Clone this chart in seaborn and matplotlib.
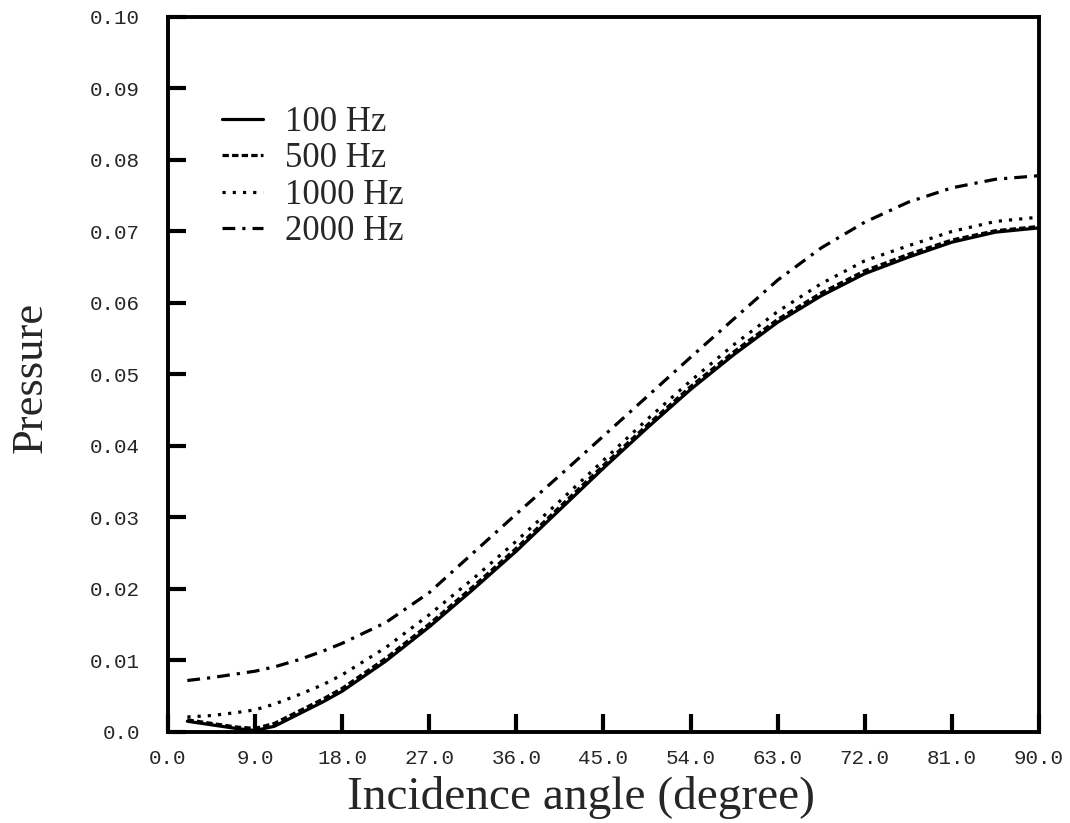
import matplotlib
matplotlib.use("Agg")
import matplotlib.pyplot as plt
import seaborn as sns
import pandas as pd

angles = [2, 4.5, 7, 9, 11, 13.5, 16, 18, 22.5, 27, 31.5, 36, 40.5, 45, 49.5, 54, 58.5, 63, 67.5, 72, 76.5, 81, 85.5, 90]
p100 = [0.0015, 0.0010, 0.0005, 0.0002, 0.0008, 0.0025, 0.0042, 0.0057, 0.0099, 0.0147, 0.0199, 0.0253, 0.0311, 0.0369, 0.0425, 0.0479, 0.0528, 0.0573, 0.0610, 0.0641, 0.0664, 0.0685, 0.0699, 0.0705]
p500 = [0.0017, 0.0012, 0.0007, 0.0005, 0.0012, 0.0029, 0.0046, 0.0061, 0.0103, 0.0151, 0.0203, 0.0257, 0.0315, 0.0373, 0.0429, 0.0483, 0.0532, 0.0577, 0.0614, 0.0645, 0.0668, 0.0688, 0.0701, 0.0707]
p1000 = [0.0021, 0.0023, 0.0027, 0.0031, 0.0039, 0.0052, 0.0066, 0.0080, 0.0118, 0.0164, 0.0214, 0.0267, 0.0323, 0.0380, 0.0437, 0.0491, 0.0542, 0.0588, 0.0627, 0.0659, 0.0680, 0.0700, 0.0714, 0.0720]
p2000 = [0.0072, 0.0076, 0.0081, 0.0085, 0.0091, 0.0101, 0.0113, 0.0124, 0.0153, 0.0195, 0.0250, 0.0305, 0.0359, 0.0414, 0.0469, 0.0524, 0.0578, 0.0632, 0.0677, 0.0713, 0.0741, 0.0761, 0.0773, 0.0778]
labels = ["100 Hz", "500 Hz", "1000 Hz", "2000 Hz"]
xticks = [0, 9, 18, 27, 36, 45, 54, 63, 72, 81, 90]
xticklabels = ["0.0", "9.0", "18.0", "27.0", "36.0", "45.0", "54.0", "63.0", "72.0", "81.0", "90.0"]
yticks = [0.0, 0.01, 0.02, 0.03, 0.04, 0.05, 0.06, 0.07, 0.08, 0.09, 0.10]
yticklabels = ["0.0", "0.01", "0.02", "0.03", "0.04", "0.05", "0.06", "0.07", "0.08", "0.09", "0.10"]

sns.set_style("white")
frames = []
for lab, vals in zip(labels, [p100, p500, p1000, p2000]):
    frames.append(pd.DataFrame({"angle": angles, "pressure": vals, "freq": lab}))
df = pd.concat(frames, ignore_index=True)

fig = plt.figure(figsize=(10.7, 8.23), dpi=100)
ax = fig.add_axes([0.157, 0.1106, 0.814, 0.8688])

dashes = {"100 Hz": "", "500 Hz": (2.0, 1.0), "1000 Hz": (1.0, 2.2), "2000 Hz": (4.0, 2.2, 1.0, 2.2)}
sns.lineplot(data=df, x="angle", y="pressure", style="freq", dashes=dashes,
             color="black", linewidth=2.3, ax=ax, legend=True)

ax.set_xlim(0, 90)
ax.set_ylim(0, 0.10)
ax.set_xticks(xticks)
ax.set_xticklabels(xticklabels, family="Liberation Mono", fontsize=15)
ax.set_yticks(yticks)
ax.set_yticklabels(yticklabels, family="Liberation Mono", fontsize=15)
ax.tick_params(axis="x", direction="in", length=13, width=3, pad=12, color="black",
               bottom=True, top=False)
ax.tick_params(axis="y", direction="in", length=13, width=3, pad=20, color="black",
               left=True, right=False)
for s in ax.spines.values():
    s.set_linewidth(2.8)
    s.set_color("black")
ax.set_xlabel("Incidence angle (degree)", family="Liberation Serif", fontsize=34)
ax.xaxis.set_label_coords(0.474, -0.061)
ax.set_ylabel("Pressure", family="Liberation Serif", fontsize=32)
ax.yaxis.set_label_coords(-0.135, 0.496)

leg = ax.legend(loc="upper left", bbox_to_anchor=(0.062, 0.8755), frameon=False,
                borderaxespad=0, borderpad=0,
                prop={"family": "Liberation Serif", "size": 25}, handlelength=1.18,
                labelspacing=0.1, handletextpad=0.63)
for line in leg.get_lines():
    line.set_linewidth(2.3)

fig.savefig("out.png", dpi=100)
